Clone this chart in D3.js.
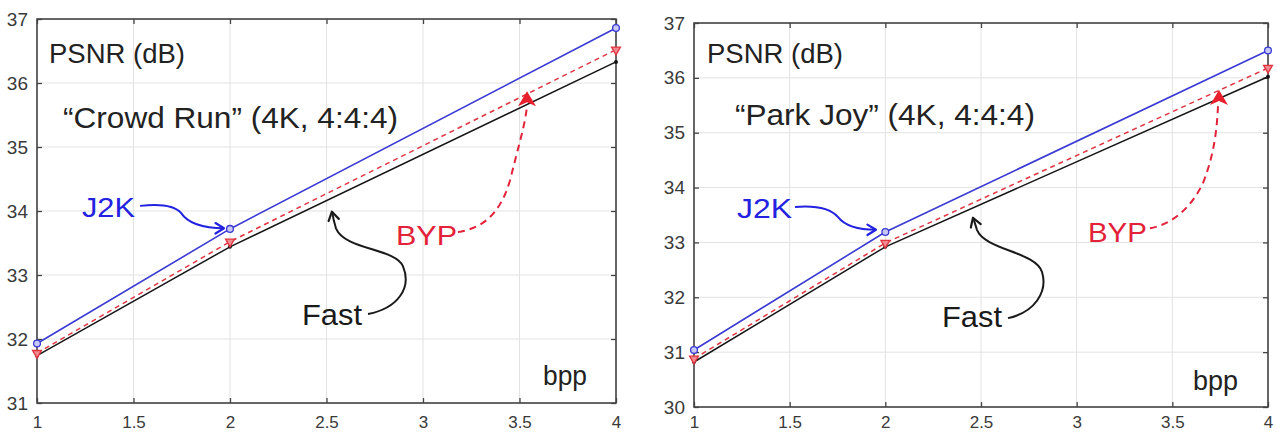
<!doctype html>
<html lang="en">
<head>
  <meta charset="utf-8">
  <title>PSNR vs bpp - D3</title>
  <style>
    body { margin: 0; background: #fff; }
    text { font-family: "Liberation Sans", Arial, sans-serif; }
  </style>
</head>
<body>
  <svg width="1277" height="432"></svg>

  <script src="https://cdn.jsdelivr.net/npm/d3@7"></script>
  <script>
    // data
    var bpp = [1, 2, 4];
    var xTicks = [1, 1.5, 2, 2.5, 3, 3.5, 4];

    var crowdJ2K  = [31.93, 33.72, 36.86];
    var crowdBYP  = [31.78, 33.52, 36.52];
    var crowdFast = [31.74, 33.44, 36.33];
    var crowdYTicks = [31, 32, 33, 34, 35, 36, 37];

    var parkJ2K  = [31.04, 33.19, 36.50];
    var parkBYP  = [30.88, 32.99, 36.18];
    var parkFast = [30.82, 32.92, 36.02];
    var parkYTicks = [30, 31, 32, 33, 34, 35, 36, 37];

    var svg = d3.select('svg');

    var colors = { j2k: '#3a3ad4', byp: '#e0343f', fast: '#151515' };
    var xLabelBaseline = 428;

    // annotations are in data units of each panel
    var panels = [
      {
        box: [37, 616, 19, 403], yDomain: [31, 37], yTicks: crowdYTicks,
        j2k: crowdJ2K, byp: crowdBYP, fast: crowdFast,
        title: '\u201cCrowd Run\u201d (4K, 4:4:4)',
        notes: {
          psnr: [1.062, 36.31, 136], title: [1.135, 35.30, 335],
          j2k: [1.233, 33.91, 53], fast: [2.373, 32.22, 60],
          byp: [2.860, 33.47, 61], bpp: [3.622, 31.28, 44],
          j2kArrow: [[1.534, 34.08], [1.663, 34.125], [1.720, 34.06], [1.746, 33.97],
                     [1.777, 33.83], [1.845, 33.73], [1.969, 33.73]],
          fastArrow: [[2.715, 32.39], [2.870, 32.48], [2.943, 32.80], [2.896, 33.14],
                      [2.855, 33.42], [2.596, 33.39], [2.549, 33.73], [2.538, 33.85], [2.530, 33.97], [2.528, 33.99]],
          bypArrow: [[3.181, 33.67], [3.306, 33.73], [3.399, 33.94], [3.451, 34.48],
                     [3.503, 35.11], [3.528, 35.34], [3.539, 35.64]],
          bypHead: [3.539, 35.87]
        }
      },
      {
        box: [694, 1268, 23, 407], yDomain: [30, 37], yTicks: parkYTicks,
        j2k: parkJ2K, byp: parkBYP, fast: parkFast,
        title: '\u201cPark Joy\u201d (4K, 4:4:4)',
        notes: {
          psnr: [1.068, 36.27, 136], title: [1.214, 35.14, 300],
          j2k: [1.225, 33.445, 55], fast: [2.296, 31.46, 60],
          byp: [3.059, 33.01, 59], bpp: [3.608, 30.31, 45],
          j2kArrow: [[1.528, 33.646], [1.648, 33.68], [1.721, 33.59], [1.753, 33.46],
                     [1.789, 33.30], [1.857, 33.23], [1.951, 33.23]],
          fastArrow: [[2.641, 31.62], [2.782, 31.73], [2.850, 32.10], [2.819, 32.46],
                      [2.787, 32.83], [2.521, 32.86], [2.479, 33.23], [2.470, 33.33], [2.462, 33.42], [2.458, 33.45]],
          bypArrow: [[3.383, 33.26], [3.488, 33.32], [3.592, 33.59], [3.660, 34.08],
                     [3.718, 34.59], [3.733, 35.05], [3.739, 35.50]],
          bypHead: [3.744, 35.78]
        }
      }
    ];

    panels.forEach(function (p) {
      var x = d3.scaleLinear().domain([1, 4]).range([p.box[0], p.box[1]]);
      var y = d3.scaleLinear().domain(p.yDomain).range([p.box[3], p.box[2]]);
      var g = svg.append('g');

      // grid
      g.append('g').selectAll('line').data(xTicks).enter().append('line')
        .attr('x1', d => x(d)).attr('x2', d => x(d))
        .attr('y1', p.box[2]).attr('y2', p.box[3])
        .attr('stroke', '#e2e2e2');
      g.append('g').selectAll('line').data(p.yTicks).enter().append('line')
        .attr('y1', d => y(d)).attr('y2', d => y(d))
        .attr('x1', p.box[0]).attr('x2', p.box[1])
        .attr('stroke', '#e2e2e2');

      // axes, ticks pointing inward
      var styleAxis = function (sel) {
        sel.select('.domain').remove();
        sel.selectAll('line').attr('stroke', '#444').attr('stroke-width', 1.3);
        sel.selectAll('text').attr('fill', '#3a3a3a').attr('font-size', 19)
          .attr('font-family', '"Liberation Sans", Arial, sans-serif');
      };
      g.append('g').attr('transform', 'translate(0,' + p.box[3] + ')')
        .call(d3.axisBottom(x).tickValues(xTicks).tickSizeInner(-5).tickSizeOuter(0)
          .tickPadding(xLabelBaseline - p.box[3] - 0.71 * 17).tickFormat(d3.format('')))
        .call(styleAxis)
        .selectAll('text').attr('font-size', 17);
      g.append('g').attr('transform', 'translate(0,' + p.box[2] + ')')
        .call(d3.axisTop(x).tickValues(xTicks).tickSizeInner(-5).tickSizeOuter(0).tickFormat(''))
        .call(styleAxis);
      g.append('g').attr('transform', 'translate(' + p.box[0] + ',0)')
        .call(d3.axisLeft(y).tickValues(p.yTicks).tickSizeInner(-5).tickSizeOuter(0)
          .tickPadding(9).tickFormat(d3.format('d')))
        .call(styleAxis);
      g.append('g').attr('transform', 'translate(' + p.box[1] + ',0)')
        .call(d3.axisRight(y).tickValues(p.yTicks).tickSizeInner(-5).tickSizeOuter(0).tickFormat(''))
        .call(styleAxis);

      g.append('rect')
        .attr('x', p.box[0]).attr('y', p.box[2])
        .attr('width', p.box[1] - p.box[0]).attr('height', p.box[3] - p.box[2])
        .attr('fill', 'none').attr('stroke', '#444').attr('stroke-width', 1.6);

      // series
      var line = d3.line().x((d, i) => x(bpp[i])).y(d => y(d));
      g.append('path').datum(p.fast).attr('d', line)
        .attr('fill', 'none').attr('stroke', colors.fast).attr('stroke-width', 1.5);
      g.append('path').datum(p.byp).attr('d', line)
        .attr('fill', 'none').attr('stroke', colors.byp).attr('stroke-width', 1.5)
        .attr('stroke-dasharray', '5,4');
      g.append('path').datum(p.j2k).attr('d', line)
        .attr('fill', 'none').attr('stroke', colors.j2k).attr('stroke-width', 1.6);

      g.selectAll('.mf').data(p.fast).enter().append('circle')
        .attr('cx', (d, i) => x(bpp[i])).attr('cy', d => y(d)).attr('r', 2)
        .attr('fill', colors.fast);
      g.selectAll('.mb').data(p.byp).enter().append('path')
        .attr('d', d3.symbol().type(d3.symbolTriangle).size(34))
        .attr('transform', (d, i) => 'translate(' + x(bpp[i]) + ',' + y(d) + ') rotate(180)')
        .attr('fill', '#f08a90').attr('stroke', colors.byp).attr('stroke-width', 1.3);
      g.selectAll('.mj').data(p.j2k).enter().append('circle')
        .attr('cx', (d, i) => x(bpp[i])).attr('cy', d => y(d)).attr('r', 3.4)
        .attr('fill', '#c8c8f4').attr('stroke', colors.j2k).attr('stroke-width', 1.3);

      // texts
      var n = p.notes;
      var label = function (pos, str, size, color) {
        g.append('text').attr('x', x(pos[0])).attr('y', y(pos[1]))
          .attr('font-size', size).attr('fill', color)
          .attr('textLength', pos[2]).attr('lengthAdjust', 'spacingAndGlyphs')
          .text(str);
      };
      label(n.psnr, 'PSNR (dB)', 27, '#222');
      label(n.title, p.title, 29, '#222');
      label(n.j2k, 'J2K', 28, '#2222e0');
      label(n.fast, 'Fast', 29, '#1a1a1a');
      label(n.byp, 'BYP', 28, '#e3223a');
      label(n.bpp, 'bpp', 27, '#222');

      // arrows
      var curve = function (pts) {
        var s = pts.map(d => [x(d[0]), y(d[1])]);
        var dstr = 'M' + s[0];
        for (var i = 1; i + 2 < 7 && i + 2 < s.length; i += 3) {
          dstr += 'C' + s[i] + ' ' + s[i + 1] + ' ' + s[i + 2];
        }
        for (var j = 7; j < s.length; j++) dstr += 'L' + s[j];
        return { d: dstr, pts: s };
      };
      var chevron = function (tip, from, color) {
        var a = Math.atan2(tip[1] - from[1], tip[0] - from[0]);
        var L = 10, w = 0.55;
        var p1 = [tip[0] - L * Math.cos(a - w), tip[1] - L * Math.sin(a - w)];
        var p2 = [tip[0] - L * Math.cos(a + w), tip[1] - L * Math.sin(a + w)];
        g.append('path').attr('d', 'M' + p1 + 'L' + tip + 'L' + p2)
          .attr('fill', 'none').attr('stroke', color).attr('stroke-width', 2.2)
          .attr('stroke-linecap', 'round').attr('stroke-linejoin', 'round');
      };

      var ja = curve(n.j2kArrow);
      g.append('path').attr('d', ja.d).attr('fill', 'none')
        .attr('stroke', '#2222e0').attr('stroke-width', 2);
      chevron(ja.pts[ja.pts.length - 1], ja.pts[ja.pts.length - 2], '#2222e0');

      var fa = curve(n.fastArrow);
      g.append('path').attr('d', fa.d).attr('fill', 'none')
        .attr('stroke', '#1a1a1a').attr('stroke-width', 2);
      chevron(fa.pts[fa.pts.length - 1], fa.pts[fa.pts.length - 3], '#1a1a1a');

      var ba = curve(n.bypArrow);
      g.append('path').attr('d', ba.d).attr('fill', 'none')
        .attr('stroke', '#e3223a').attr('stroke-width', 2).attr('stroke-dasharray', '7,5');
      var hx = x(n.bypHead[0]), hy = y(n.bypHead[1]);
      g.append('path')
        .attr('d', 'M' + hx + ',' + hy + 'L' + (hx + 9) + ',' + (hy + 15) + 'L' + hx + ',' + (hy + 11)
          + 'L' + (hx - 9) + ',' + (hy + 15) + 'Z')
        .attr('fill', '#e8202e');
    });
  </script>
</body>
</html>
